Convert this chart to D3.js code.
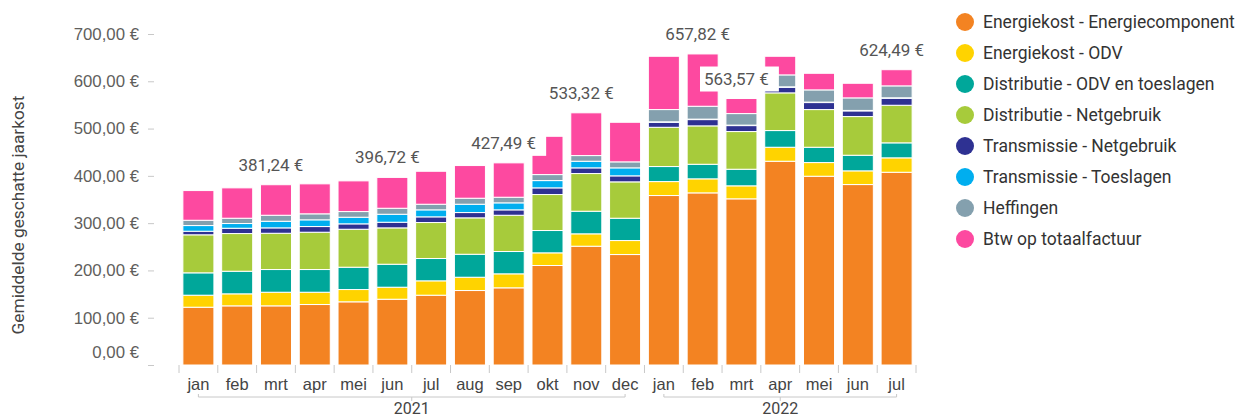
<!DOCTYPE html>
<html>
<head>
<meta charset="utf-8">
<script src="https://cdnjs.cloudflare.com/ajax/libs/d3/7.8.5/d3.min.js"></script>
<style>
body { margin: 0; background: #fff; }
svg { font-family: Roboto, "Segoe UI", sans-serif; }
</style>
</head>
<body>
<div id="chart"></div>
<script>
// months on the x axis, grouped per year
var months = ["jan","feb","mrt","apr","mei","jun","jul","aug","sep","okt","nov","dec",
              "jan","feb","mrt","apr","mei","jun","jul"];
var yearLabels = ["2021", "2022"];
var yearCounts = [12, 7];

// cost components (EUR), one value per month
var energiecomponent   = [122.2,125.1,125.1,127.9,133.6,139.1,147.6,157.5,163.2,210.4,251.2,233.6,358.4,364.0,351.4,430.9,399.2,381.6,407.6];
var energieODV         = [25.4,25.4,28.8,26.0,26.0,25.4,30.4,28.1,29.6,26.8,26.2,29.6,29.5,29.7,27.5,29.6,28.9,29.0,30.5];
var distributieODV     = [47.3,47.8,48.0,48.0,47.2,48.6,47.2,48.6,47.2,47.2,47.8,47.2,31.8,30.8,35.1,35.3,32.4,33.0,31.7];
var distributieNet     = [80.4,79.7,76.7,78.9,80.3,76.9,76.1,77.0,76.7,76.1,79.7,76.9,83.0,81.2,79.7,79.7,79.7,81.8,79.5];
var transmissieNet     = [7.6,11.2,11.4,12.0,11.4,11.9,12.0,11.2,11.4,14.1,12.0,12.7,10.6,13.3,12.6,11.8,14.8,12.0,14.8];
var transmissieToesl   = [12.0,10.0,14.0,14.2,14.0,16.9,14.8,17.6,14.8,15.4,14.0,16.9,1.0,1.0,1.0,1.0,1.0,1.0,1.0];
var heffingen          = [11.2,11.2,12.7,12.7,12.0,12.7,11.9,12.7,11.9,12.7,12.0,12.7,25.9,27.2,24.4,25.2,25.8,26.5,25.2];
var btw                = [62.8,64.2,64.54,63.4,64.9,65.22,69.7,69.1,72.69,81.0,90.42,83.7,112.7,110.62,31.87,39.4,35.1,30.9,34.19];

var seriesNames = ["Energiekost - Energiecomponent","Energiekost - ODV","Distributie - ODV en toeslagen",
                   "Distributie - Netgebruik","Transmissie - Netgebruik","Transmissie - Toeslagen",
                   "Heffingen","Btw op totaalfactuur"];
var seriesColors = ["#F38322","#FFD300","#00A79A","#A7CB3B","#2E3192","#00AEEF","#84A0AE","#FD49A0"];
var seriesValues = [energiecomponent, energieODV, distributieODV, distributieNet,
                    transmissieNet, transmissieToesl, heffingen, btw];

// months that show a total label
var labelled = [2, 5, 8, 10, 13, 14, 18];
var yTicks = [0, 100, 200, 300, 400, 500, 600, 700];

var width = 1239, height = 418;

var nl = d3.formatLocale({decimal: ",", thousands: ".", grouping: [3], currency: ["", " €"]});
var euro = nl.format("$,.2f");

var rows = months.map(function(m, i) {
  var r = {i: i};
  seriesNames.forEach(function(k, j) { r[k] = seriesValues[j][i]; });
  return r;
});
var stack = d3.stack().keys(seriesNames)(rows);

var x = d3.scaleBand()
          .domain(d3.range(months.length))
          .range([179, 916])
          .paddingInner(0.2)
          .paddingOuter(0.1);
var y = d3.scaleLinear()
          .domain([0, 700])
          .range([365, 34]);

var svg = d3.select("#chart").append("svg")
    .attr("width", width)
    .attr("height", height);

// y axis
var yAxis = svg.append("g")
    .attr("transform", "translate(154,0)")
    .call(d3.axisLeft(y).tickValues(yTicks).tickFormat(euro).tickSize(6).tickPadding(9));
yAxis.select(".domain").remove();
yAxis.selectAll("line").attr("stroke", "#c8c8c8");
yAxis.selectAll("text")
    .attr("fill", "#605E5C")
    .style("font-size", "16.8px")
    .attr("dy", function(d) { return d === 0 ? "-0.45em" : "0.32em"; });

svg.append("text")
    .attr("transform", "translate(18,215) rotate(-90)")
    .attr("text-anchor", "middle")
    .attr("dominant-baseline", "central")
    .attr("fill", "#444")
    .style("font-size", "17.3px")
    .text("Gemiddelde geschatte jaarkost");

// stacked bars
svg.append("g").selectAll("g")
  .data(stack)
  .enter().append("g")
    .attr("fill", function(d, j) { return seriesColors[j]; })
  .selectAll("rect")
  .data(function(d) { return d; })
  .enter().append("rect")
    .attr("x", function(d) { return x(d.data.i); })
    .attr("width", x.bandwidth())
    .attr("y", function(d) { return y(d[1]); })
    .attr("height", function(d) { return Math.max(0, y(d[0]) - y(d[1])); })
    .attr("stroke", "#fff")
    .attr("stroke-width", 1);

// x axis: separators between bars and month labels
var xAxis = svg.append("g")
    .attr("transform", "translate(0,365)")
    .call(d3.axisBottom(x).tickFormat(function(i) { return months[i]; }).tickSize(0).tickPadding(13));
xAxis.select(".domain").remove();
xAxis.selectAll("text").attr("fill", "#444").style("font-size", "16.5px");

svg.append("g").selectAll("line")
  .data(d3.range(months.length + 1))
  .enter().append("line")
    .attr("x1", function(i) { return x.range()[0] + i * x.step(); })
    .attr("x2", function(i) { return x.range()[0] + i * x.step(); })
    .attr("y1", 365).attr("y2", 373)
    .attr("stroke", "#c8c8c8");

// year brackets
var start = 0;
yearLabels.forEach(function(yr, k) {
  var a = x(start) + x.bandwidth() / 2;
  var b = x(start + yearCounts[k] - 1) + x.bandwidth() / 2;
  var c = (a + b) / 2;
  svg.append("path")
      .attr("d", "M" + a + ",394V397H" + b + "V394M" + c + ",397V401")
      .attr("fill", "none")
      .attr("stroke", "#c8c8c8");
  svg.append("text")
      .attr("x", c).attr("y", 414)
      .attr("text-anchor", "middle")
      .attr("fill", "#444")
      .style("font-size", "16px")
      .text(yr);
  start += yearCounts[k];
});

// total labels with white backing
var labels = svg.append("g");
labelled.forEach(function(i) {
  var total = d3.sum(seriesValues, function(s) { return s[i]; });
  var cx = x(i) + x.bandwidth() / 2 - 5;
  var cy = y(total) - 20;
  var g = labels.append("g");
  var bg = g.append("rect").attr("fill", "#fff");
  var t = g.append("text")
      .attr("x", cx).attr("y", cy)
      .attr("text-anchor", "middle")
      .attr("dominant-baseline", "central")
      .attr("fill", "#555")
      .style("font-size", "17px")
      .text(euro(total));
  var bb = t.node().getBBox();
  bg.attr("x", bb.x - 4).attr("y", cy - 12)
    .attr("width", bb.width + 14).attr("height", 25);
});

// legend
var legend = svg.append("g").selectAll("g")
  .data(seriesNames)
  .enter().append("g")
    .attr("transform", function(d, j) { return "translate(965," + (22 + j * 31) + ")"; });
legend.append("circle")
    .attr("r", 9)
    .attr("fill", function(d, j) { return seriesColors[j]; });
legend.append("text")
    .attr("x", 18)
    .attr("dominant-baseline", "central")
    .attr("fill", "#333")
    .style("font-size", "17.5px")
    .text(function(d) { return d; });
</script>
</body>
</html>
